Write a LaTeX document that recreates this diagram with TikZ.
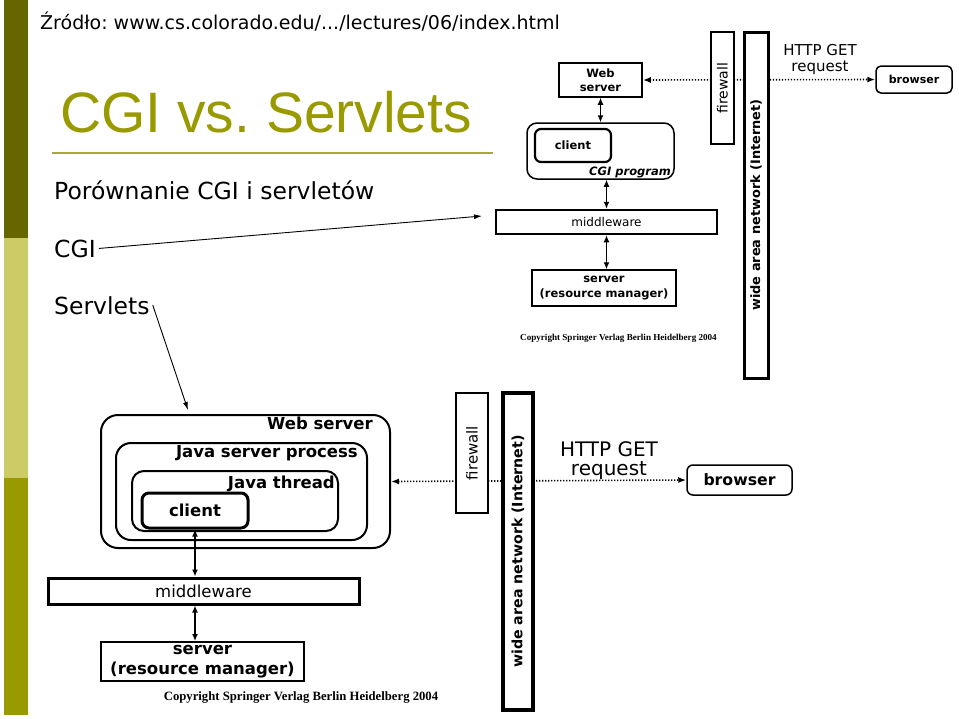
\documentclass[tikz,border=0pt]{standalone}
\usepackage{fontspec}
\setmainfont{DejaVu Sans}
\newfontfamily\titlefont{Liberation Sans}
\newfontfamily\serifb{Liberation Serif}
\usetikzlibrary{arrows.meta,backgrounds}
\definecolor{bardark}{RGB}{102,102,0}
\definecolor{barlight}{RGB}{204,204,102}
\definecolor{barmid}{RGB}{153,153,0}
\definecolor{titlecol}{RGB}{153,153,0}
\definecolor{rulecol}{RGB}{170,170,51}
\frenchspacing
\begin{document}
\begin{tikzpicture}[x=1pt,y=-1pt,
  box/.style={draw, fill=white, inner sep=0pt, align=center, line width=1.5pt},
  rbox/.style={box, rounded corners=#1},
  plain/.style={inner sep=0pt, align=center},
  dblarrow/.style={{Latex[length=7pt,width=6pt]}-{Latex[length=7pt,width=6pt]}, line width=1.2pt},
  dotarrow/.style={{Latex[length=8pt,width=6pt]}-{Latex[length=8pt,width=6pt]}, line width=1.6pt, dash pattern=on 1.2pt off 1.8pt},
  pointer/.style={-{Latex[length=8pt,width=5pt]}, line width=0.9pt}
]
\useasboundingbox (0,0) rectangle (959,718);

% left bar
\fill[bardark] (4,0) rectangle (28,238);
\fill[barlight] (4,238) rectangle (28,478);
\fill[barmid] (4,478) rectangle (28,715);

% slide texts
\node[plain, anchor=base west] (src) at (40,29) {\fontsize{19}{22}\selectfont Źródło: www.cs.colorado.edu/.../lectures/06/index.html};
\node[plain, anchor=base west, text=titlecol] (title) at (60,132) {\titlefont\fontsize{57}{66}\selectfont CGI vs. Servlets};
\draw[rulecol, line width=2pt] (52,152.5) -- (493,152.5);
\node[plain, anchor=base west] (cmp) at (54,199) {\fontsize{23.5}{28}\selectfont Porównanie CGI i servletów};
\node[inner sep=3pt, anchor=base west] (cgi) at (51,257) {\fontsize{23.5}{28}\selectfont CGI};
\node[inner sep=3pt, anchor=base west] (servlets) at (51,314) {\fontsize{23.5}{28}\selectfont Servlets};
\coordinate (cgitip) at (482,216);
\coordinate (servtip) at (188,410);
\draw[pointer] (cgi.east) -- (cgitip);
\draw[pointer] (servlets.east) -- (servtip);

% ===== top diagram (CGI) =====
\begin{scope}[font=\bfseries\fontsize{11.5}{14.5}\selectfont]
\node[box, minimum width=83pt, minimum height=34pt] (ws1) at (600.5,80) {Web\\server};
\node[rbox=10pt, minimum width=147pt, minimum height=56pt] (cgp1) at (600.5,151) {};
\node[rbox=6pt, line width=2.2pt, minimum width=76pt, minimum height=33pt] (client1) at (573,145.5) {client};
\node[plain, anchor=base east] (cgplabel) at (671,175) {\itshape CGI program};
\node[box, line width=2.5pt, minimum width=221pt, minimum height=24pt, font=\mdseries\fontsize{12}{14}\selectfont] (mw1) at (606.5,222) {middleware};
\node[box, minimum width=144pt, minimum height=36pt] (srv1) at (604,288) {server\\[1pt](resource manager)};
\node[box, rotate=90, line width=2pt, minimum width=112pt, minimum height=23pt, font=\mdseries\fontsize{14}{16}\selectfont] (fw1) at (722.5,88) {firewall};
\node[box, rotate=90, line width=3pt, minimum width=346pt, minimum height=24pt, font=\bfseries\fontsize{12.9}{15}\selectfont] (wan1) at (756,205) {wide area network (Internet)};
\node[rbox=5pt, minimum width=76pt, minimum height=27pt, font=\bfseries\fontsize{11}{13}\selectfont] (br1) at (914,79.5) {browser};
\node[plain, font=\mdseries\fontsize{15}{16}\selectfont] (http1) at (820,59) {HTTP GET\\request};
\end{scope}
\node[plain, anchor=base, font=\serifb\bfseries\fontsize{9.1}{11}\selectfont] (copy1) at (618.5,340) {Copyright Springer Verlag Berlin Heidelberg 2004};
\draw[dblarrow] (ws1.south) -- (cgp1.north);
\draw[dblarrow] (cgp1.south -| mw1.north) -- (mw1.north);
\draw[dblarrow] (mw1.south) -- (mw1.south |- srv1.north);
\begin{pgfonlayer}{background}
\draw[dotarrow] (ws1.east) -- (br1.west);
\end{pgfonlayer}

% ===== bottom diagram (Servlets) =====
\begin{scope}[font=\bfseries\fontsize{16.5}{19}\selectfont]
\node[rbox=17pt, line width=2pt, minimum width=289pt, minimum height=133pt] (ws2) at (245.5,481.5) {};
\node[rbox=15pt, line width=2pt, minimum width=251pt, minimum height=97pt] (jsp) at (241.5,491.5) {};
\node[rbox=12pt, line width=2pt, minimum width=206pt, minimum height=60pt] (jt) at (235,501) {};
\node[rbox=7pt, line width=3pt, minimum width=106pt, minimum height=35pt] (client2) at (195,510.5) {client};
\node[plain, anchor=base east] (wslabel) at (373,429) {Web server};
\node[plain, anchor=base east] (jsplabel) at (358,457) {Java server process};
\node[plain, anchor=base east] (jtlabel) at (335,488) {Java thread};
\node[box, line width=3pt, minimum width=311pt, minimum height=26pt, font=\mdseries\fontsize{16.5}{19}\selectfont] (mw2) at (203.5,591) {middleware};
\node[box, line width=2pt, minimum width=203pt, minimum height=39pt] (srv2) at (202.5,661.5) {server\\[1pt](resource manager)};
\node[box, rotate=90, line width=2.5pt, minimum width=120pt, minimum height=32pt, font=\mdseries\fontsize{15}{17}\selectfont] (fw2) at (472,453) {firewall};
\node[box, rotate=90, line width=3.5pt, minimum width=317pt, minimum height=30pt, font=\bfseries\fontsize{14.2}{17}\selectfont] (wan2) at (518,551.5) {wide area network (Internet)};
\node[rbox=6pt, minimum width=105pt, minimum height=30pt, font=\bfseries\fontsize{15.7}{18}\selectfont] (br2) at (739.5,480) {browser};
\node[plain, font=\mdseries\fontsize{20}{19}\selectfont] (http2) at (609,461) {HTTP GET\\request};
\end{scope}
\node[plain, anchor=base, font=\serifb\bfseries\fontsize{12.7}{15}\selectfont] (copy2) at (301,700) {Copyright Springer Verlag Berlin Heidelberg 2004};
\draw[dblarrow, line width=1.5pt] (client2.south) -- (client2.south |- mw2.north);
\draw[dblarrow, line width=1.5pt] (mw2.south -| client2.south) -- (srv2.north -| client2.south);
\begin{pgfonlayer}{background}
\draw[dotarrow] (ws2.east) -- (br2.west);
\end{pgfonlayer}
\end{tikzpicture}
\end{document}
